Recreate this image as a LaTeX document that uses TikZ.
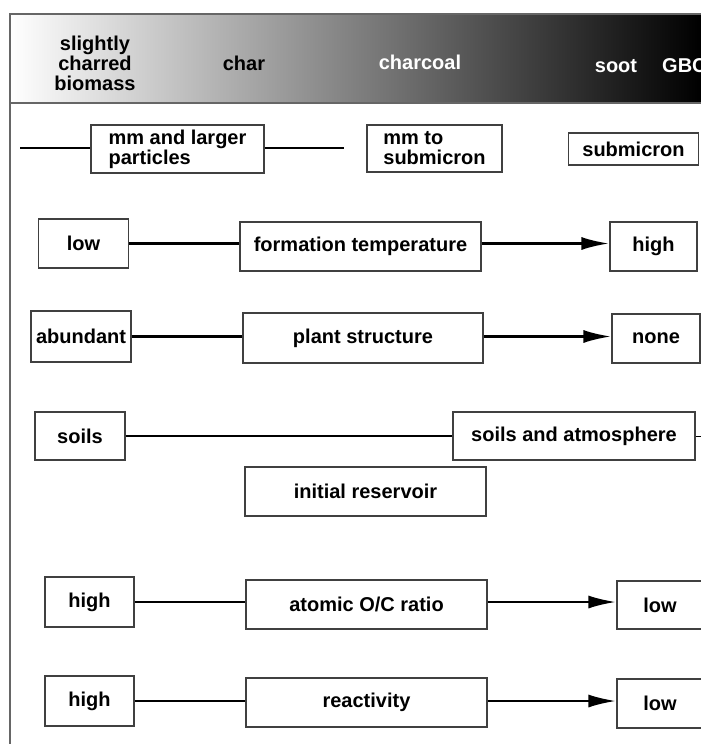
\documentclass[tikz,border=0pt]{standalone}
\usepackage{fontspec}
\setmainfont{Liberation Sans}
\usetikzlibrary{positioning}
\usetikzlibrary{calc}
\usetikzlibrary{arrows.meta}

\begin{document}
\begin{tikzpicture}
 [ x=1pt, y=-1pt
 , every node/.style={font=\fontsize{20}{20}\selectfont\bfseries, inner sep=0pt}
 , box/.style={draw=black!75, line width=1.2pt, fill=white, minimum height=49pt}
 , small box/.style={box, minimum width=89pt}
 , wide box/.style={box, minimum width=241pt}
 , link/.style={line width=2.8pt}
 , grows/.style={link, -{Latex[length=28pt,width=13pt]}}
 , frame/.style={draw=black!60, line width=1.5pt}
 ]
  \clip (0,0) rectangle (701,744);
  % header band
  \shade [left color=white, middle color=black!45, right color=black] (10,14) rectangle (701,103);
  \draw [frame] (701,14) -- (10,14) -- (10,744);
  \draw [frame] (10,103) -- (701,103);
  \node [align=center] (biomass) at (95,63) {slightly\\charred\\biomass};
  \node (char) at (244,63) {char};
  \node [text=white] (charcoal) at (420,62) {charcoal};
  \node [text=white] (soot) at (616,66) {soot};
  \node [text=white, anchor=west] (gbc) at (662,66) {GBC};

  % particle size
  \node [box, minimum width=173pt, minimum height=48pt, align=left] (larger) at (177.5,149) {mm and larger\\particles};
  \node [box, minimum width=135pt, minimum height=47pt, align=left] (mmsub) at (434.5,148.5) {mm to\\submicron};
  \node [box, minimum width=130pt, minimum height=32pt] (submicron) at (633.5,149) {submicron};
  \coordinate (size start) at (20,148);
  \coordinate (size end) at (344,148);
  \draw [link] (size start) -- (size start -| larger.west);
  \draw [link] (size start -| larger.east) -- (size end);

  \node [small box, minimum width=90pt] (lowtemp) at (83.5,243.5) {low};
  \node [wide box] (temperature) at (360.5,246.5) {formation temperature};
  \node [small box, minimum width=87pt] (hightemp) at (653.5,246.5) {high};
  \draw [link] (lowtemp.east) -- (lowtemp.east -| temperature.west);
  \draw [grows] (temperature.east |- lowtemp) -- (hightemp.west |- lowtemp);

  \node [small box, minimum width=100pt, minimum height=51pt] (abundant) at (81,336.5) {abundant};
  \node [wide box, minimum width=240pt, minimum height=50pt] (structure) at (363,338) {plant structure};
  \node [small box, minimum width=88pt] (none) at (656,338.5) {none};
  \draw [link] (abundant.east) -- (abundant.east -| structure.west);
  \draw [grows] (structure.east |- abundant) -- (none.west |- abundant);

  \node [small box, minimum width=90pt, minimum height=48pt] (soils) at (80,436) {soils};
  \node [wide box, minimum width=242pt, minimum height=48pt] (atmosphere) at (574,436) {soils and atmosphere};
  \node [wide box] (reservoir) at (365.5,491.5) {initial reservoir};
  \coordinate (reservoir end) at (701,436);
  \draw [link] (soils.east) -- (soils.east -| atmosphere.west);
  \draw [line width=1pt] (atmosphere.east) -- (reservoir end);

  \node [small box, minimum height=50pt] (highoc) at (89.5,602) {high};
  \node [wide box] (ratio) at (366.5,604.5) {atomic O/C ratio};
  \node [box, minimum width=86pt, minimum height=48pt] (lowoc) at (660,605) {low};
  \draw [link] (highoc.east) -- (highoc.east -| ratio.west);
  \draw [grows] (ratio.east |- highoc) -- (lowoc.west |- highoc);

  \node [small box, minimum height=50pt] (highreact) at (89.5,701) {high};
  \node [wide box] (reactivity) at (366.5,702.5) {reactivity};
  \node [box, minimum width=86pt] (lowreact) at (660,703.5) {low};
  \draw [link] (highreact.east) -- (highreact.east -| reactivity.west);
  \draw [grows] (reactivity.east |- highreact) -- (lowreact.west |- highreact);
\end{tikzpicture}
\end{document}
